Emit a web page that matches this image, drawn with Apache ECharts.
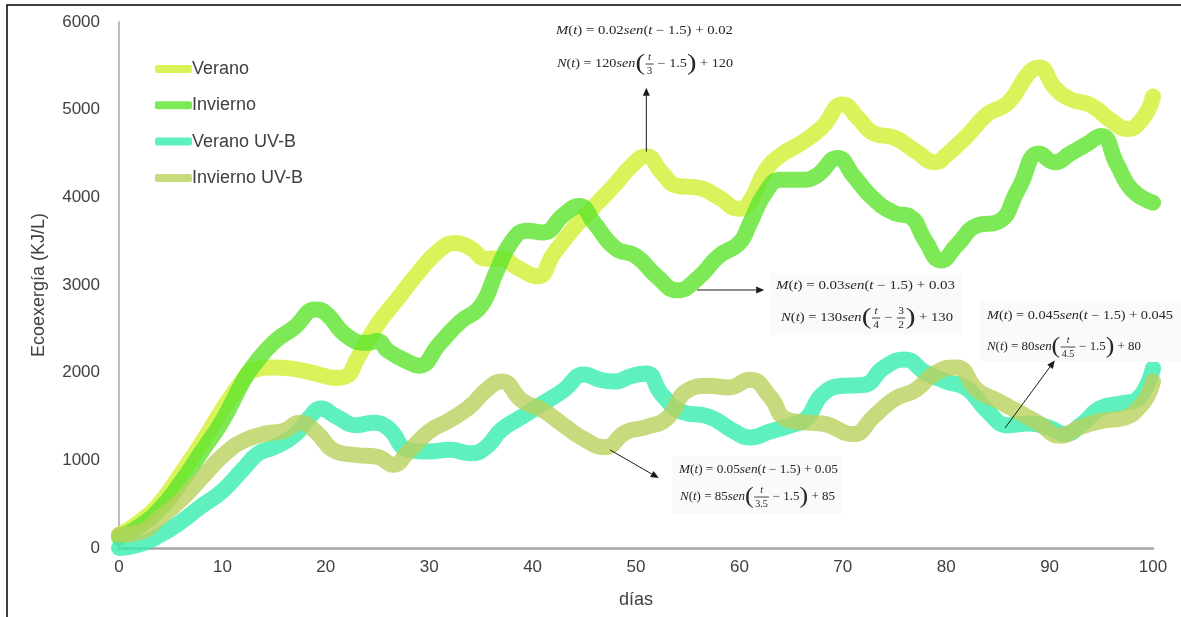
<!DOCTYPE html>
<html>
<head>
<meta charset="utf-8">
<script src="https://cdn.jsdelivr.net/npm/echarts@6/dist/echarts.min.js"></script>
<style>
  html, body { margin: 0; padding: 0; background: #fff; }
  #chart { width: 1181px; height: 617px; }
</style>
</head>
<body>
<div id="chart"></div>
<script>
// Ecoexergy (KJ/L) over 100 days, four scenarios. Points are [día, valor].
const seriesNames = ['Verano', 'Invierno', 'Verano UV-B', 'Invierno UV-B'];

const verano = [[0,150],[2,300],[4,520],[6,850],[8,1200],[10,1580],[12,1920],[13,2030],[15,2060],[17,2040],[19,1990],[21,1940],[22,1960],
  [23,2150],[25,2550],[27,2850],[29,3150],[31,3400],[32.5,3480],[34,3420],[35.5,3300],[37,3300],[38.5,3200],[40.5,3100],[42,3350],
  [44,3650],[46,3900],[48,4150],[49.5,4350],[51,4470],[52.5,4280],[54,4130],[56,4110],[58,4000],[60,3870],[61,3950],[62.5,4300],
  [64,4480],[66,4620],[68,4800],[70,5060],[71.5,4900],[73,4730],[75,4680],[77,4530],[79,4400],[80,4480],[82,4700],[84,4950],
  [86,5080],[88,5420],[89,5480],[90.5,5250],[92,5120],[94,5050],[96,4870],[97.5,4780],[99,4900],[100,5150]];

const invierno = [[0,120],[2,250],[4,450],[6,750],[8,1100],[10,1450],[12,1900],[13,2080],[15,2350],[17,2520],[19,2720],[20,2680],
  [22,2420],[24,2340],[25,2360],[26,2250],[28,2120],[29,2080],[31,2330],[33,2580],[35,2760],[36.5,3150],[38,3500],[39.5,3620],
  [41,3600],[43,3800],[44.5,3900],[46,3700],[48,3420],[50,3330],[52,3100],[54,2940],[56,3080],[58,3330],[60,3480],[61,3700],
  [62.5,4050],[64,4200],[66,4200],[67.5,4250],[69.5,4450],[71,4250],[73,3980],[75,3820],[76.5,3780],[78,3500],[79.5,3280],
  [81,3450],[83,3680],[85,3720],[87,4100],[89,4500],[90.5,4400],[92,4500],[93.5,4600],[95,4700],[96.5,4380],[98,4080],[100,3940]];

const veranoUVB = [[0,0],[2,40],[4,150],[6,300],[8,480],[10,650],[12,900],[13.5,1080],[15,1150],[17,1290],[18.5,1500],[19.5,1590],
  [21,1500],[23,1400],[24.5,1430],[26,1370],[28,1120],[30,1100],[32,1120],[34,1080],[35.5,1150],[37,1350],[39,1500],[41,1650],
  [43,1800],[45,1980],[46.5,1920],[48,1900],[49.5,1960],[51,1990],[52.5,1750],[54.5,1550],[57,1500],[59.5,1330],[61,1260],
  [63,1330],[65,1400],[66.5,1480],[68,1750],[70,1850],[72,1860],[74,2060],[76,2150],[78,2000],[80,1900],[82,1820],[84,1560],
  [86,1400],[88,1420],[90,1370],[91.5,1300],[93,1400],[95,1600],[97,1650],[98.5,1700],[100,2050]];

const inviernoUVB = [[0,150],[2,180],[4,350],[6,550],[8,800],[10,1050],[12,1220],[14,1300],[16,1340],[17.5,1430],[19,1330],
  [21,1100],[23,1060],[25,1040],[26.5,950],[28,1100],[30,1330],[32,1460],[34,1620],[35.5,1800],[37,1900],[39,1680],[41,1570],
  [43,1400],[45,1240],[47,1150],[49,1320],[51,1380],[53,1480],[55,1800],[57,1850],[59,1830],[61,1920],[63,1720],[64.5,1470],
  [66.5,1430],[68,1420],[71,1300],[73,1500],[75,1700],[77,1800],[79,2000],[81,2060],[83,1800],[85,1680],[87,1550],[89,1420],
  [91,1280],[93,1380],[95,1450],[97,1480],[99,1650],[100,1900]];

const xRange = [0, 100, 10];     // min, max, interval (días)
const yRange = [0, 6000, 1000];  // min, max, interval (KJ/L)

// Model equations shown beside the curves
const formulas = [
  { m: 'M(t) = 0.02sen(t − 1.5) + 0.02',  n: ['N(t) = 120sen', '(', ['t', '3'], ' − 1.5', ')', ' + 120'] },
  { m: 'M(t) = 0.03sen(t − 1.5) + 0.03',  n: ['N(t) = 130sen', '(', ['t', '4'], ' − ', ['3', '2'], ')', ' + 130'] },
  { m: 'M(t) = 0.045sen(t − 1.5) + 0.045', n: ['N(t) = 80sen', '(', ['t', '4.5'], ' − 1.5', ')', ' + 80'] },
  { m: 'M(t) = 0.05sen(t − 1.5) + 0.05',  n: ['N(t) = 85sen', '(', ['t', '3.5'], ' − 1.5', ')', ' + 85'] }
];
// Arrows: [from point on the curve, to point near the equations], in data units
const arrows = [
  [[51, 4520], [51, 5250]],
  [[55.9, 2943], [62.4, 2943]],
  [[47.5, 1118], [52.2, 798]],
  [[85.7, 1370], [90.5, 2140]]
];

const colors = ['#d2f032', '#5ce42c', '#36eeac', '#b9d15e'];
const lineOpacity = 0.8;
const INK = '#262626';
const SERIF = '"Liberation Serif", "DejaVu Serif", serif';

const chart = echarts.init(document.getElementById('chart'), null, { renderer: 'canvas' });

const dataSets = [verano, invierno, veranoUVB, inviernoUVB];

chart.setOption({
  animation: false,
  backgroundColor: '#fff',
  grid: { left: 119, right: 28, top: 22, bottom: 69, containLabel: false, outerBoundsMode: 'none' },
  legend: {
    orient: 'vertical', left: 150, top: 55,
    itemWidth: 37, itemHeight: 8, itemGap: 18.3,
    icon: 'roundRect',
    textStyle: { fontSize: 18, color: '#404040', fontFamily: '"Liberation Sans", Arial, sans-serif', padding: [0, 0, 0, -5] },
    data: seriesNames.map((n, i) => ({ name: n, itemStyle: { color: colors[i], opacity: lineOpacity } }))
  },
  xAxis: {
    type: 'value', min: xRange[0], max: xRange[1], interval: xRange[2],
    name: 'días', nameLocation: 'middle', nameGap: 43,
    nameTextStyle: { fontSize: 18, color: '#404040', fontFamily: '"Liberation Sans Narrow", "Liberation Sans", sans-serif' },
    axisLine: { show: true, lineStyle: { color: '#a6a6a6', width: 2.5 } },
    axisTick: { show: false },
    splitLine: { show: false },
    axisLabel: { fontSize: 17, color: '#404040', margin: 11, fontFamily: '"Liberation Sans Narrow", "Liberation Sans", sans-serif' }
  },
  yAxis: {
    type: 'value', min: yRange[0], max: yRange[1], interval: yRange[2],
    name: 'Ecoexergía (KJ/L)', nameLocation: 'middle', nameGap: 71,
    nameTextStyle: { fontSize: 18, color: '#404040', fontFamily: '"Liberation Sans", Arial, sans-serif' },
    axisLine: { show: true, lineStyle: { color: '#a6a6a6', width: 1.5 } },
    axisTick: { show: false },
    splitLine: { show: false },
    axisLabel: { fontSize: 17, color: '#404040', margin: 19, fontFamily: '"Liberation Sans", Arial, sans-serif',
      formatter: v => String(v) }
  },
  series: seriesNames.map((n, i) => ({
    name: n, type: 'line', data: dataSets[i], smooth: 0.5, showSymbol: false, symbol: 'none',
    color: colors[i],
    lineStyle: { width: 16, color: colors[i], opacity: lineOpacity, cap: 'round', join: 'round' },
    z: 2 + i
  }))
});

// ---- equations and arrows ----
const mctx = document.createElement('canvas').getContext('2d');
function textW(s, size, italic) {
  mctx.font = (italic ? 'italic ' : '') + size + 'px ' + SERIF;
  return mctx.measureText(s).width;
}
function txt(s, x, y, size, italic, align) {
  return { type: 'text', x: x, y: y, silent: true, z: 30,
    style: { text: s, fontSize: size, fontStyle: italic ? 'italic' : 'normal', fontFamily: SERIF,
      fill: INK, align: align || 'left', verticalAlign: 'middle' } };
}
// Letters in italic (math style), digits and operators upright
function runs(s, size, x0, kids) {
  let x = x0;
  (s.match(/[A-Za-z]+|[^A-Za-z]+/g) || []).forEach(r => {
    const it = /[A-Za-z]/.test(r);
    kids.push(txt(r, x, 0, size, it));
    x += textW(r, size, it);
  });
  return x;
}
function layout(pieces, size) {
  const kids = [];
  let x = 0;
  pieces.forEach(p => {
    if (Array.isArray(p)) {
      const fs = size * 0.78;
      const w = Math.max(textW(p[0], fs, /[A-Za-z]/.test(p[0])), textW(p[1], fs, false)) + 3;
      kids.push(txt(p[0], x + w / 2, -size * 0.55, fs, /[A-Za-z]/.test(p[0]), 'center'));
      kids.push({ type: 'line', silent: true, z: 30, shape: { x1: x + 0.5, y1: 0, x2: x + w - 0.5, y2: 0 }, style: { stroke: INK, lineWidth: 0.8 } });
      kids.push(txt(p[1], x + w / 2, size * 0.62, fs, false, 'center'));
      x += w;
    } else if (p === '(' || p === ')') {
      const fs = size * 2;
      kids.push(txt(p, x, 0, fs, false));
      x += textW(p, fs, false);
    } else {
      x = runs(p, size, x, kids);
    }
  });
  return { kids: kids, width: x };
}
function formulaLine(pieces, left, cy, targetW, size) {
  const l = layout(pieces, size);
  return { type: 'group', x: left, y: cy, scaleX: targetW / l.width, children: l.kids, silent: true, z: 30 };
}

// placement of each equation block: [left, y, width] per line, plus backing box
const blocks = [
  { l1: [556, 31, 177], l2: [557, 64, 176], box: null },
  { l1: [776, 286, 179], l2: [781, 318, 172], box: [769, 273, 192, 62] },
  { l1: [987, 316, 186], l2: [987, 347, 154], box: [980, 301, 201, 61] },
  { l1: [679, 470, 159], l2: [680, 497, 155], box: [672, 456, 170, 58] }
];

function buildGraphics() {
  const g = [];
  // outer frame
  g.push({ type: 'rect', silent: true, shape: { x: 7, y: 5, width: 1200, height: 700 },
    style: { fill: 'none', stroke: '#000', lineWidth: 1.5 }, z: 100 });
  blocks.forEach((b, i) => {
    if (b.box) g.push({ type: 'rect', silent: true, shape: { x: b.box[0], y: b.box[1], width: b.box[2], height: b.box[3] },
      style: { fill: '#fafafa' }, z: 20 });
    g.push(formulaLine([formulas[i].m], b.l1[0], b.l1[1], b.l1[2], 12));
    g.push(formulaLine(formulas[i].n, b.l2[0], b.l2[1], b.l2[2], 12));
  });
  arrows.forEach(a => {
    const p0 = chart.convertToPixel({ gridIndex: 0 }, a[0]);
    const p1 = chart.convertToPixel({ gridIndex: 0 }, a[1]);
    const ang = Math.atan2(p1[1] - p0[1], p1[0] - p0[0]);
    const hl = 8, hw = 3.5;
    const bx = p1[0] - hl * Math.cos(ang), by = p1[1] - hl * Math.sin(ang);
    g.push({ type: 'line', silent: true, z: 32, shape: { x1: p0[0], y1: p0[1], x2: bx, y2: by },
      style: { stroke: '#1a1a1a', lineWidth: 1 } });
    g.push({ type: 'polygon', silent: true, z: 32, shape: { points: [
      [p1[0], p1[1]],
      [bx + hw * Math.sin(ang), by - hw * Math.cos(ang)],
      [bx - hw * Math.sin(ang), by + hw * Math.cos(ang)]
    ] }, style: { fill: '#1a1a1a' } });
  });
  return g;
}

chart.setOption({ graphic: buildGraphics() });
</script>
</body>
</html>
